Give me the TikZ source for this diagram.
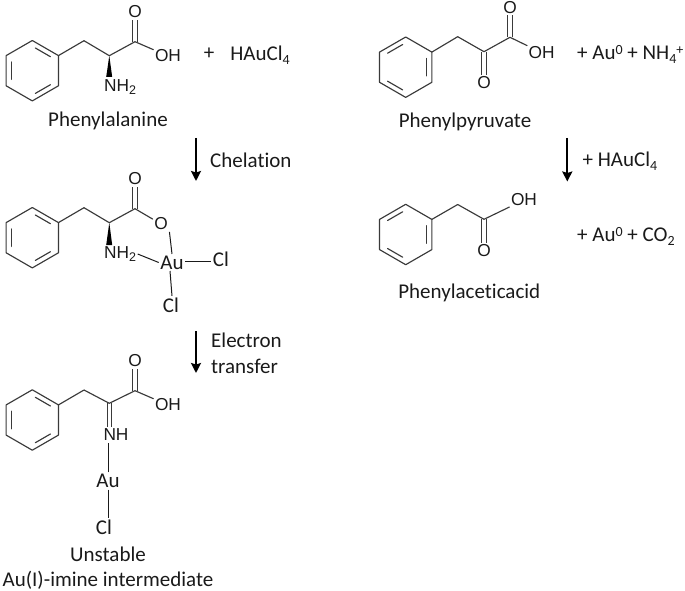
\documentclass[tikz,border=0pt]{standalone}
\usepackage{fontspec}
\setmainfont{Carlito}[Ligatures=NoCommon]
\setsansfont{Liberation Sans}
\usepackage{tikz}
\usetikzlibrary{arrows.meta,calc}

\definecolor{bondgray}{HTML}{3A3A3A}
\definecolor{inkgray}{HTML}{1A1A1A}

\newcommand{\subnum}[1]{\raisebox{-4pt}{\fontsize{14}{14}\selectfont #1}}
\newcommand{\subatom}[1]{\raisebox{-3pt}{\fontsize{12.5}{12.5}\selectfont #1}}
\newcommand{\supnum}[1]{\raisebox{5pt}{\fontsize{14}{14}\selectfont #1}}

% benzene ring: name, centre, angle of the first corner
\newcommand{\phenylring}[3]{
    \coordinate (#1) at (#2);
    \path (#1) +(#3:30.2) coordinate (#1-1) +(#3+60:30.2) coordinate (#1-2)
    +(#3+120:30.2) coordinate (#1-3) +(#3+180:30.2) coordinate (#1-4)
    +(#3+240:30.2) coordinate (#1-5) +(#3+300:30.2) coordinate (#1-6);
    \draw [bond] (#1-1) -- (#1-2) -- (#1-3) -- (#1-4) -- (#1-5) -- (#1-6) -- cycle;
    \draw [inner bond] ($(#1)!.81!(#1-1)$) -- ($(#1)!.81!(#1-2)$);
    \draw [inner bond] ($(#1)!.81!(#1-3)$) -- ($(#1)!.81!(#1-4)$);
    \draw [inner bond] ($(#1)!.81!(#1-5)$) -- ($(#1)!.81!(#1-6)$);
}

\begin{document}
\begin{tikzpicture}[x=1pt,y=-1pt,>={Stealth[length=10pt,width=10pt,inset=1.5pt]}]
    \tikzstyle{bond}=[draw=bondgray,line width=1.15pt,line cap=round,line join=round]
    \tikzstyle{inner bond}=[bond,shorten <=3.5pt,shorten >=3.5pt]
    \tikzstyle{double bond}=[draw=bondgray,line width=1.1pt,double=white,double distance=3.1pt]
    \tikzstyle{metal bond}=[draw=inkgray,line width=1pt]
    \tikzstyle{atom}=[font=\sffamily\fontsize{17.3}{17.3}\selectfont,text=inkgray,inner sep=1.5pt]
    \tikzstyle{metal}=[font=\fontsize{21}{21}\selectfont,text=inkgray,inner sep=1.5pt]
    \tikzstyle{caption}=[font=\fontsize{21}{21}\selectfont,text=inkgray,inner sep=0pt]
    \tikzstyle{step arrow}=[->,draw=black,line width=2.3pt]
    \tikzstyle{wedge}=[fill=black]

    \useasboundingbox (0,0) rectangle (685,591);

    % phenylalanine
    \phenylring{ringa}{32.3,70.7}{-90}
    \coordinate (cha) at (84,40.7);
    \coordinate (cba) at (109.3,55.7);
    \coordinate (cca) at (135,41.7);
    \coordinate (wa1) at (106.2,77);
    \coordinate (wa2) at (112.2,77);
    \node [atom] (oa) at (135,12) {O};
    \node [atom] (oha) at (168,56) {OH};
    \node [atom] (nha) at (120,87) {NH\subatom{2}};
    \draw [double bond] (cca) -- (oa);
    \draw [bond] (ringa-2) -- (cha) -- (cba) -- (cca) -- (oha);
    \fill [wedge] (cba) -- (wa1) -- (wa2) -- cycle;
    \node [caption] (plus) at (209,54) {+};
    \node [caption,anchor=base] (haucla) at (260,60.7) {HAuCl\subnum{4}};
    \node [caption] (phe) at (108,121) {Phenylalanine};

    % arrow 1
    \node [caption,anchor=west] (chel) at (210,160) {Chelation};
    \coordinate (ara) at (196,138);
    \coordinate (arb) at (196,181);
    \draw [step arrow] (ara) -- (arb);

    % chelate
    \phenylring{ringb}{32.3,237.7}{-90}
    \coordinate (chb) at (84,207.7);
    \coordinate (cbb) at (109.3,222.7);
    \coordinate (ccb) at (135,208.7);
    \coordinate (wb1) at (106.2,245);
    \coordinate (wb2) at (112.2,245);
    \node [atom] (ob) at (135,179) {O};
    \node [atom] (est) at (161,224) {O};
    \node [atom] (nhb) at (120,254) {NH\subatom{2}};
    \node [metal] (aub) at (172,262.5) {Au};
    \node [metal] (clr) at (221,259) {Cl};
    \node [metal] (cld) at (171,305) {Cl};
    \draw [double bond] (ccb) -- (ob);
    \draw [bond] (ringb-2) -- (chb) -- (cbb) -- (ccb) -- (est);
    \fill [wedge] (cbb) -- (wb1) -- (wb2) -- cycle;
    \draw [metal bond] (est.south east) -- (aub.north);
    \draw [metal bond] (nhb.east) -- (aub.west);
    \draw [metal bond] (aub.east |- 0,261) -- (clr.west |- 0,261);
    \draw [metal bond] ([xshift=-2pt]aub.south) -- ([xshift=1pt]cld.north);

    % arrow 2
    \node [caption,anchor=west] (elec) at (211,340) {Electron};
    \node [caption,anchor=west] (tran) at (211,366) {transfer};
    \coordinate (arc) at (196,331);
    \coordinate (ard) at (196,373);
    \draw [step arrow] (arc) -- (ard);

    % imine
    \phenylring{ringc}{32.3,420}{-90}
    \coordinate (chc) at (84,390);
    \coordinate (cbc) at (109.3,403.3);
    \coordinate (ccc) at (135,390.7);
    \node [atom] (oc) at (135,361) {O};
    \node [atom] (ohc) at (168,405) {OH};
    \node [atom] (nhc) at (116,435) {NH};
    \node [metal] (auc) at (108,481) {Au};
    \node [metal] (clc) at (104,527) {Cl};
    \draw [double bond] (cbc) -- (cbc |- nhc.north);
    \draw [double bond] (ccc) -- (oc);
    \draw [bond] (ringc-2) -- (chc) -- (cbc) -- (ccc) -- (ohc);
    \draw [metal bond] (auc.north) -- (auc.north |- nhc.south);
    \draw [metal bond] (auc.south) -- (auc.south |- clc.north);
    \node [caption] (unst) at (108,554) {Unstable};
    \node [caption] (inter) at (108,580) {Au(I)-imine intermediate};

    % phenylpyruvate
    \phenylring{ringd}{405.7,67.2}{210}
    \coordinate (chd) at (457.7,36.7);
    \coordinate (cbd) at (484,51.7);
    \coordinate (ccd) at (510,37.3);
    \node [atom] (od) at (510,7.5) {O};
    \node [atom] (ohd) at (541.7,52.7) {OH};
    \node [atom] (oe) at (484,82.7) {O};
    \draw [double bond] (ccd) -- (od);
    \draw [double bond] (cbd) -- (oe);
    \draw [bond] (ringd-3) -- (chd) -- (cbd) -- (ccd) -- (ohd);
    \node [caption,anchor=base west] (prod) at (577,60) {+ Au\supnum{0} + NH\subnum{4}\supnum{+}};
    \node [caption] (pyr) at (465,122) {Phenylpyruvate};

    % arrow 3
    \node [caption,anchor=base west] (hauclb) at (582.5,166.5) {+ HAuCl\subnum{4}};
    \coordinate (are) at (567.3,138);
    \coordinate (arf) at (567.3,181.5);
    \draw [step arrow] (are) -- (arf);

    % phenylacetic acid
    \phenylring{ringe}{405.7,234.5}{210}
    \coordinate (che) at (457.7,204.5);
    \coordinate (cbe) at (484,219.3);
    \node [atom] (ohe) at (524,200) {OH};
    \node [atom] (of) at (484,250.7) {O};
    \draw [double bond] (cbe) -- (of);
    \draw [bond] (ringe-3) -- (che) -- (cbe) -- (ohe);
    \node [caption,anchor=base west] (prode) at (577,241.5) {+ Au\supnum{0} + CO\subnum{2}};
    \node [caption] (pac) at (469.3,292.5) {Phenylaceticacid};
\end{tikzpicture}
\end{document}
